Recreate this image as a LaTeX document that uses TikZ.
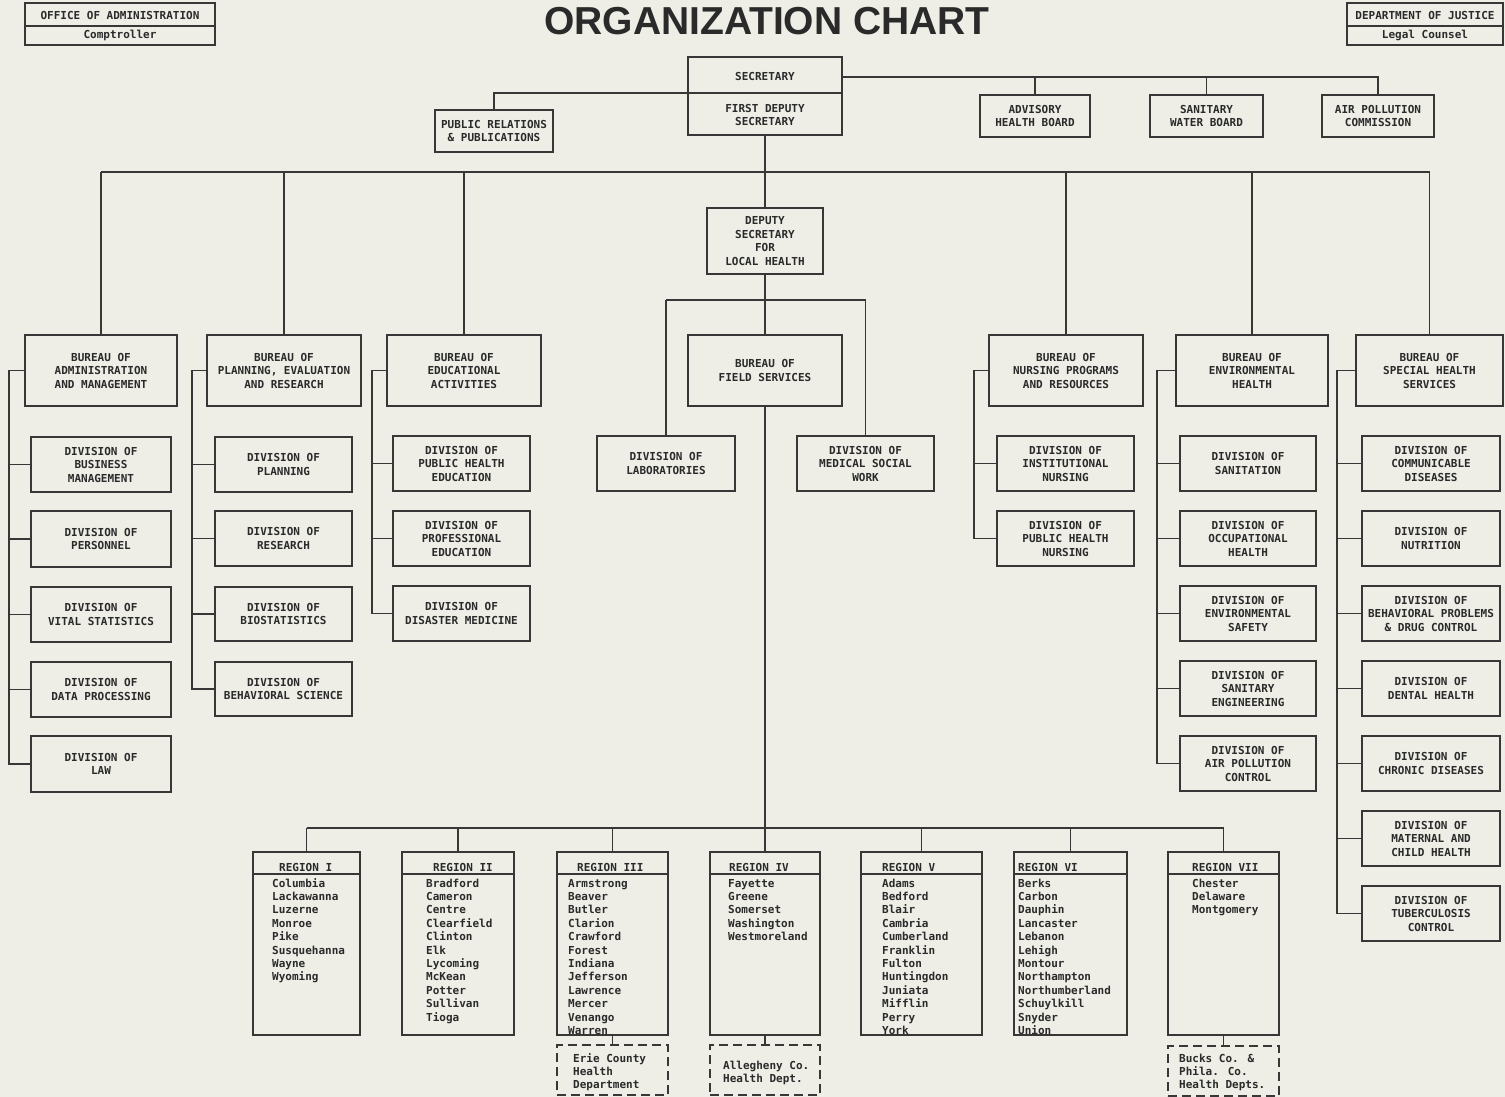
\documentclass[tikz,border=0pt]{standalone}
\usepackage{fontspec}
\setmainfont{Liberation Sans}
\newfontfamily\tw{DejaVu Sans Mono}
\definecolor{bgc}{RGB}{238,238,231}
\definecolor{lc}{RGB}{55,55,55}
\definecolor{tc}{RGB}{42,42,42}
\tikzset{
  ln/.style={draw=lc, line width=1.9pt},
  bx/.style={draw=lc, line width=1.9pt, inner sep=0pt, align=center,
    font=\tw\bfseries\fontsize{11}{13.5}\selectfont, text=tc},
  lbl/.style={inner sep=0pt, align=center, font=\tw\bfseries\fontsize{11}{13.5}\selectfont, text=tc},
  cty/.style={inner sep=0pt, anchor=base west, font=\tw\bfseries\fontsize{11}{13}\selectfont, text=tc},
  dbox/.style={draw=lc, line width=1.8pt, dash pattern=on 9pt off 5pt, inner sep=0pt},
}
\newcommand\mkbox[7][bx]{\node[#1, minimum width={(#5)-(#3)}, minimum height={(#6)-(#4)}] (#2) at ({((#3)+(#5))/2},{((#4)+(#6))/2}) {#7};}
\begin{document}
\begin{tikzpicture}[x=1pt,y=-1pt]
\fill[bgc] (0,0) rectangle (1505,1097);
\useasboundingbox (0,0) rectangle (1505,1097);

% title
\node[inner sep=0pt, text=tc, font=\bfseries\fontsize{39}{44}\selectfont] (title) at (767,21) {ORGANIZATION CHART};

% corner boxes
\mkbox[bx]{ofa}{25}{3}{215}{45}{}
\draw[ln] (ofa.west |- 0,26) -- (ofa.east |- 0,26);
\node[lbl] (ofat) at (120,15) {OFFICE OF ADMINISTRATION};
\node[lbl] (ofab) at (120,35) {Comptroller};
\mkbox[bx]{doj}{1347}{3}{1503}{45}{}
\draw[ln] (doj.west |- 0,26) -- (doj.east |- 0,26);
\node[lbl] (dojt) at (1425,15) {DEPARTMENT OF JUSTICE};
\node[lbl] (dojb) at (1425,35) {Legal Counsel};

% secretary
\mkbox[bx]{sec}{688}{57}{842}{135}{}
\draw[ln] (sec.west |- 0,93) -- (sec.east |- 0,93);
\node[lbl] (sect) at (765,76) {SECRETARY};
\node[lbl] (secb) at (765,115) {FIRST DEPUTY\\SECRETARY};

\mkbox{pr}{435}{110}{553}{152}{PUBLIC RELATIONS\\\& PUBLICATIONS}
\mkbox{adv}{980}{95}{1090}{137}{ADVISORY\\HEALTH BOARD}
\mkbox{swb}{1150}{95}{1263}{137}{SANITARY\\WATER BOARD}
\mkbox{apcm}{1322}{95}{1434}{137}{AIR POLLUTION\\COMMISSION}

\draw[ln] (sec.west |- 0,93) -| (pr.north);
\draw[ln] (sec.east |- 0,77) -| (apcm.north);
\draw[ln] (adv.north |- 0,77) -- (adv.north);
\draw[ln] (swb.north |- 0,77) -- (swb.north);

\mkbox{dep}{707}{208}{823}{274}{DEPUTY\\SECRETARY\\FOR\\LOCAL HEALTH}
\draw[ln] (sec.south) -- (dep.north);

% bureaus
\mkbox{adm}{25}{335}{177}{406}{BUREAU OF\\ADMINISTRATION\\AND MANAGEMENT}
\mkbox{pln}{207}{335}{361}{406}{BUREAU OF\\PLANNING, EVALUATION\\AND RESEARCH}
\mkbox{edu}{387}{335}{541}{406}{BUREAU OF\\EDUCATIONAL\\ACTIVITIES}
\mkbox{fs}{688}{335}{842}{406}{BUREAU OF\\FIELD SERVICES}
\mkbox{nur}{989}{335}{1143}{406}{BUREAU OF\\NURSING PROGRAMS\\AND RESOURCES}
\mkbox{env}{1176}{335}{1328}{406}{BUREAU OF\\ENVIRONMENTAL\\HEALTH}
\mkbox{shs}{1356}{335}{1503}{406}{BUREAU OF\\SPECIAL HEALTH\\SERVICES}

% main bus
\draw[ln] (adm.north |- 0,172) -- (shs.north |- 0,172);
\foreach \b in {adm,pln,edu,nur,env,shs} \draw[ln] (\b.north |- 0,172) -- (\b.north);

% field services fork
\mkbox{lab}{597}{436}{735}{491}{DIVISION OF\\LABORATORIES}
\mkbox{msw}{797}{436}{934}{491}{DIVISION OF\\MEDICAL SOCIAL\\WORK}
\draw[ln] (dep.south) -- (fs.north);
\draw[ln] (lab.north |- 0,300) -- (msw.north |- 0,300);
\draw[ln] (lab.north |- 0,300) -- (lab.north);
\draw[ln] (msw.north |- 0,300) -- (msw.north);

% admin divisions
\mkbox{biz}{31}{437}{171}{492}{DIVISION OF\\BUSINESS\\MANAGEMENT}
\mkbox{per}{31}{511}{171}{567}{DIVISION OF\\PERSONNEL}
\mkbox{vit}{31}{587}{171}{642}{DIVISION OF\\VITAL STATISTICS}
\mkbox{dat}{31}{662}{171}{717}{DIVISION OF\\DATA PROCESSING}
\mkbox{law}{31}{736}{171}{792}{DIVISION OF\\LAW}
\draw[ln] (adm.west) -- ++(-15,0) coordinate (sa) |- (law.west);
\foreach \d in {biz,per,vit,dat} \draw[ln] (sa |- \d.west) -- (\d.west);

% planning divisions
\mkbox{pla}{215}{437}{352}{492}{DIVISION OF\\PLANNING}
\mkbox{res}{215}{511}{352}{566}{DIVISION OF\\RESEARCH}
\mkbox{bio}{215}{587}{352}{641}{DIVISION OF\\BIOSTATISTICS}
\mkbox{beh}{215}{662}{352}{716}{DIVISION OF\\BEHAVIORAL SCIENCE}
\draw[ln] (pln.west) -- ++(-14,0) coordinate (sp) |- (beh.west);
\foreach \d in {pla,res,bio} \draw[ln] (sp |- \d.west) -- (\d.west);

% educational divisions
\mkbox{phe}{393}{436}{530}{491}{DIVISION OF\\PUBLIC HEALTH\\EDUCATION}
\mkbox{pre}{393}{511}{530}{566}{DIVISION OF\\PROFESSIONAL\\EDUCATION}
\mkbox{dis}{393}{586}{530}{641}{DIVISION OF\\DISASTER MEDICINE}
\draw[ln] (edu.west) -- ++(-14,0) coordinate (se) |- (dis.west);
\foreach \d in {phe,pre} \draw[ln] (se |- \d.west) -- (\d.west);

% nursing divisions
\mkbox{ins}{997}{436}{1134}{491}{DIVISION OF\\INSTITUTIONAL\\NURSING}
\mkbox{phn}{997}{511}{1134}{566}{DIVISION OF\\PUBLIC HEALTH\\NURSING}
\draw[ln] (nur.west) -- ++(-14,0) coordinate (sn) |- (phn.west);
\draw[ln] (sn |- ins.west) -- (ins.west);

% environmental divisions
\mkbox{san}{1180}{436}{1316}{491}{DIVISION OF\\SANITATION}
\mkbox{occ}{1180}{511}{1316}{566}{DIVISION OF\\OCCUPATIONAL\\HEALTH}
\mkbox{ens}{1180}{586}{1316}{641}{DIVISION OF\\ENVIRONMENTAL\\SAFETY}
\mkbox{see}{1180}{661}{1316}{716}{DIVISION OF\\SANITARY\\ENGINEERING}
\mkbox{apc}{1180}{736}{1316}{791}{DIVISION OF\\AIR POLLUTION\\CONTROL}
\draw[ln] (env.west) -- ++(-18,0) coordinate (sv) |- (apc.west);
\foreach \d in {san,occ,ens,see} \draw[ln] (sv |- \d.west) -- (\d.west);

% special health divisions
\mkbox{com}{1362}{436}{1500}{491}{DIVISION OF\\COMMUNICABLE\\DISEASES}
\mkbox{nut}{1362}{511}{1500}{566}{DIVISION OF\\NUTRITION}
\mkbox{bpd}{1362}{586}{1500}{641}{DIVISION OF\\BEHAVIORAL PROBLEMS\\\& DRUG CONTROL}
\mkbox{den}{1362}{661}{1500}{716}{DIVISION OF\\DENTAL HEALTH}
\mkbox{chr}{1362}{736}{1500}{791}{DIVISION OF\\CHRONIC DISEASES}
\mkbox{mch}{1362}{811}{1500}{866}{DIVISION OF\\MATERNAL AND\\CHILD HEALTH}
\mkbox{tub}{1362}{886}{1500}{941}{DIVISION OF\\TUBERCULOSIS\\CONTROL}
\draw[ln] (shs.west) -- ++(-18,0) coordinate (ss) |- (tub.west);
\foreach \d in {com,nut,bpd,den,chr,mch} \draw[ln] (ss |- \d.west) -- (\d.west);

% regions
\mkbox{r1}{253}{852}{360}{1035}{}
\mkbox{r2}{402}{852}{514}{1035}{}
\mkbox{r3}{557}{852}{668}{1035}{}
\mkbox{r4}{710}{852}{820}{1035}{}
\mkbox{r5}{861}{852}{982}{1035}{}
\mkbox{r6}{1014}{852}{1127}{1035}{}
\mkbox{r7}{1168}{852}{1279}{1035}{}
\foreach \r in {r1,r2,r3,r4,r5,r6,r7} {
  \draw[ln] (\r.west |- 0,874) -- (\r.east |- 0,874);
  \draw[ln] (\r.north |- 0,828) -- (\r.north);
}
\draw[ln] (r1.north |- 0,828) -- (r7.north |- 0,828);
\draw[ln] (fs.south) -- (r4.north |- 0,828);

\node[cty] (h1) at (279,871) {REGION I};
\node[cty] (h2) at (433,871) {REGION II};
\node[cty] (h3) at (577,871) {REGION III};
\node[cty] (h4) at (729,871) {REGION IV};
\node[cty] (h5) at (882,871) {REGION V};
\node[cty] (h6) at (1018,871) {REGION VI};
\node[cty] (h7) at (1192,871) {REGION VII};

\foreach \t [count=\i] in {Columbia,Lackawanna,Luzerne,Monroe,Pike,Susquehanna,Wayne,Wyoming}
  \node[cty] (ca\i) at (272,{887+13.4*(\i-1)}) {\t};
\foreach \t [count=\i] in {Bradford,Cameron,Centre,Clearfield,Clinton,Elk,Lycoming,McKean,Potter,Sullivan,Tioga}
  \node[cty] (cb\i) at (426,{887+13.4*(\i-1)}) {\t};
\foreach \t [count=\i] in {Armstrong,Beaver,Butler,Clarion,Crawford,Forest,Indiana,Jefferson,Lawrence,Mercer,Venango,Warren}
  \node[cty] (cc\i) at (568,{887+13.4*(\i-1)}) {\t};
\foreach \t [count=\i] in {Fayette,Greene,Somerset,Washington,Westmoreland}
  \node[cty] (cd\i) at (728,{887+13.4*(\i-1)}) {\t};
\foreach \t [count=\i] in {Adams,Bedford,Blair,Cambria,Cumberland,Franklin,Fulton,Huntingdon,Juniata,Mifflin,Perry,York}
  \node[cty] (ce\i) at (882,{887+13.4*(\i-1)}) {\t};
\foreach \t [count=\i] in {Berks,Carbon,Dauphin,Lancaster,Lebanon,Lehigh,Montour,Northampton,Northumberland,Schuylkill,Snyder,Union}
  \node[cty] (cf\i) at (1018,{887+13.4*(\i-1)}) {\t};
\foreach \t [count=\i] in {Chester,Delaware,Montgomery}
  \node[cty] (cg\i) at (1192,{887+13.4*(\i-1)}) {\t};

% dashed county health departments
\mkbox[dbox]{d3}{557}{1045}{668}{1095}{}
\mkbox[dbox]{d4}{710}{1045}{820}{1095}{}
\mkbox[dbox]{d7}{1168}{1046}{1279}{1096}{}
\draw[ln] (r3.south) -- (d3.north);
\draw[ln] (r4.south) -- (d4.north);
\draw[ln] (r7.south) -- (d7.north);
\node[cty] (e1) at (573,1062) {Erie County};
\node[cty] (e2) at (573,1075) {Health};
\node[cty] (e3) at (573,1088) {Department};
\node[cty] (a1) at (723,1069) {Allegheny Co.};
\node[cty] (a2) at (723,1082) {Health Dept.};
\node[cty] (b1) at (1179,1062) {Bucks Co. \&};
\node[cty] (b2) at (1179,1075) {Phila. Co.};
\node[cty] (b3) at (1179,1088) {Health Depts.};
\end{tikzpicture}
\end{document}
